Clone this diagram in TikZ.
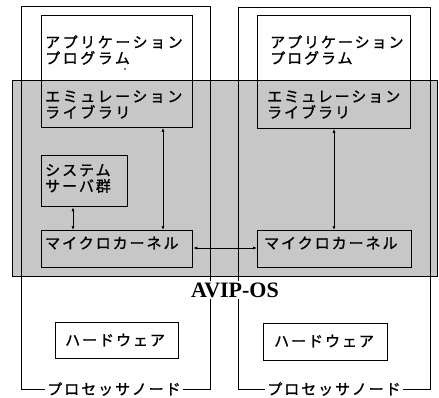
\documentclass[tikz,border=0pt]{standalone}
\usepackage{fontspec}
\setmainfont{Liberation Serif}
\newfontfamily\jp[LetterSpace=13,FakeBold=1.3]{Noto Sans CJK JP}
\newfontfamily\jpw[LetterSpace=17,FakeBold=1.3]{Noto Sans CJK JP}
\usetikzlibrary{arrows.meta}
\begin{document}
\begin{tikzpicture}[x=1pt,y=-1pt,
 box/.style={draw, line width=0.8pt, inner sep=0pt, anchor=north west},
 kbox/.style={box, line width=1.3pt},
 jt/.style={font=\jp\fontsize{15}{16}\selectfont, align=left, inner sep=0pt, anchor=west},
 jtw/.style={jt, font=\jpw\fontsize{15}{16}\selectfont},
 plabel/.style={font=\jp\fontsize{15}{16}\selectfont, fill=white, inner sep=2pt},
 arr/.style={{Latex[length=4pt,width=3pt]}-{Latex[length=4pt,width=3pt]}, line width=0.7pt}]
\useasboundingbox (0,0) rectangle (439,397);
% AVIP-OS shaded region
\node[box, fill=black!22, line width=0.6pt, minimum width=425pt, minimum height=196pt] (os) at (12,80) {};
% processor nodes
\node[box, minimum width=189pt, minimum height=383pt] (pn1) at (21,6) {};
\node[box, minimum width=192pt, minimum height=382pt] (pn2) at (238,7) {};
\node[plabel] (pl1) at (114,389) {プロセッサノード};
\node[plabel] (pl2) at (334,389) {プロセッサノード};
% left node boxes
\node[box, minimum width=151pt, minimum height=112pt] (app1) at (41,15) {};
\node[kbox, minimum width=86pt, minimum height=51pt] (sys) at (41,155) {};
\node[kbox, minimum width=151pt, minimum height=37pt] (mk1) at (41,230) {};
\node[box, minimum width=123pt, minimum height=36pt] (hw1) at (55,322) {};
% right node boxes
\node[box, minimum width=153pt, minimum height=113pt] (app2) at (257,15) {};
\node[kbox, minimum width=154pt, minimum height=37pt] (mk2) at (257,230) {};
\node[box, minimum width=124pt, minimum height=37pt] (hw2) at (263,323) {};
% texts left
\node[jtw] (tapp1) at (45,50) {アプリケーション\\プログラム};
\node[jtw] (temu1) at (45,104.5) {エミュレーション\\ライブラリ};
\node[jt] (tsys) at (45,178.5) {システム\\サーバ群};
\node[jt] (tmk1) at (45,243) {マイクロカーネル};
\node[jt] (thw1) at (65,340) {ハードウェア};
% texts right
\node[jt] (tapp2) at (270,50) {アプリケーション\\プログラム};
\node[jt] (temu2) at (267,104.5) {エミュレーション\\ライブラリ};
\node[jt] (tmk2) at (264,243) {マイクロカーネル};
\node[jt] (thw2) at (274,341) {ハードウェア};
\fill (125,69) circle (0.8pt);
% AVIP-OS label
\node[font=\bfseries\fontsize{22}{22}\selectfont, fill=white, inner sep=2pt] (avip) at (235,290) {AVIP-OS};
% arrows
\coordinate (c1) at (163,0);
\coordinate (c2) at (73,0);
\coordinate (c3) at (334,0);
\coordinate (c4) at (0,248);
\draw[arr] (app1.south -| c1) -- (mk1.north -| c1);
\draw[arr] (sys.south -| c2) -- (mk1.north -| c2);
\draw[arr] (app2.south -| c3) -- (mk2.north -| c3);
\draw[arr] (mk1.east |- c4) -- (mk2.west |- c4);
\end{tikzpicture}
\end{document}
